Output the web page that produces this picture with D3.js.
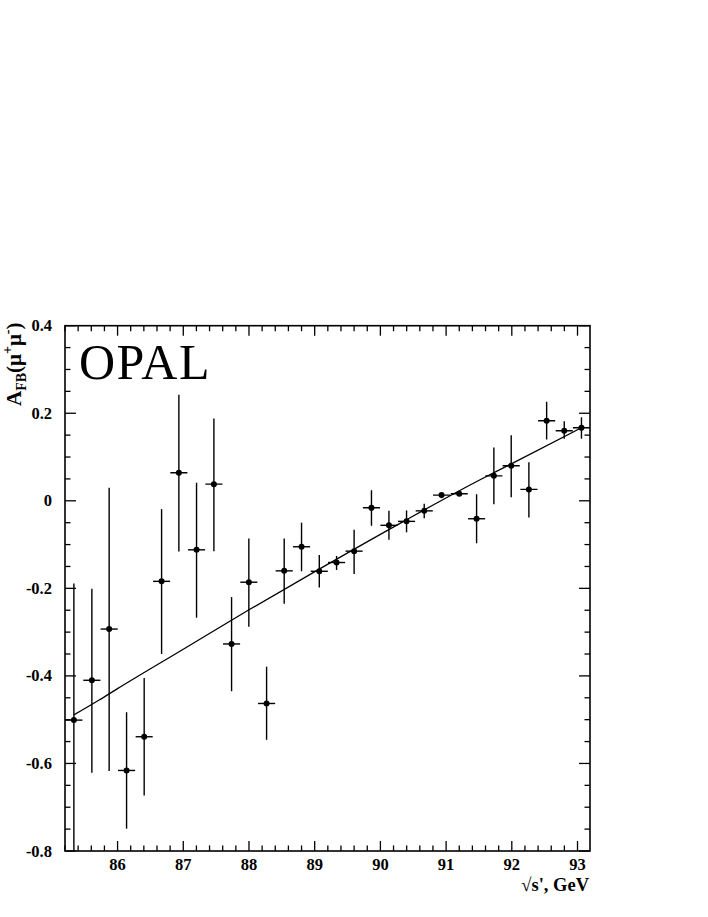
<!DOCTYPE html>
<html>
<head>
<meta charset="utf-8">
<script src="https://cdn.jsdelivr.net/npm/d3@7"></script>
<style>
  html, body { margin: 0; padding: 0; background: #fff; }
  svg { display: block; }
</style>
</head>
<body>
<svg id="chart" width="708" height="917"></svg>
<script>
// ---- data ----
const sqrtS = [85.335, 85.609, 85.872, 86.137, 86.405, 86.670, 86.933, 87.202, 87.466, 87.735,
               87.998, 88.268, 88.536, 88.800, 89.070, 89.333, 89.600, 89.864, 90.130, 90.398,
               90.667, 90.931, 91.200, 91.464, 91.727, 91.991, 92.260, 92.530, 92.798, 93.060];
const afb = [-0.501, -0.410, -0.293, -0.616, -0.539, -0.184, 0.064, -0.112, 0.038, -0.327,
             -0.186, -0.463, -0.160, -0.105, -0.161, -0.141, -0.115, -0.016, -0.056, -0.047,
             -0.023, 0.013, 0.016, -0.041, 0.057, 0.080, 0.026, 0.183, 0.160, 0.167];
const errUp = [0.312, 0.209, 0.323, 0.133, 0.134, 0.165, 0.178, 0.153, 0.150, 0.107,
               0.100, 0.084, 0.074, 0.055, 0.037, 0.015, 0.049, 0.040, 0.033, 0.025,
               0.016, 0.005, 0.004, 0.056, 0.065, 0.070, 0.062, 0.043, 0.022, 0.024];
const errDown = [0.400, 0.211, 0.324, 0.133, 0.134, 0.166, 0.180, 0.155, 0.153, 0.108,
                 0.102, 0.083, 0.075, 0.056, 0.037, 0.017, 0.052, 0.041, 0.033, 0.025,
                 0.017, 0.007, 0.004, 0.056, 0.065, 0.072, 0.064, 0.043, 0.018, 0.025];
const binHalf = 0.13;
// theory curve
const curveX = [85.335, 85.72, 86.0, 87.0, 88.0, 89.069, 90.388, 91.51, 92.0, 93.06];
const curveY = [-0.489, -0.455, -0.429, -0.339, -0.249, -0.156, -0.044, 0.0475, 0.085, 0.167];
const xMajor = [86, 87, 88, 89, 90, 91, 92, 93];
const yMajor = [-0.8, -0.6, -0.4, -0.2, 0, 0.2, 0.4];
const yTickLabels = ["-0.8", "-0.6", "-0.4", "-0.2", "0", "0.2", "0.4"];

// ---- layout ----
const FONT = "'Liberation Serif', Tinos, 'Times New Roman', Times, serif";
const L = 65, R = 590, T = 325.7, B = 851;
const svg = d3.select("#chart").attr("font-family", FONT);
const x = d3.scaleLinear().domain([85.2, 93.19]).range([L, R]);
const y = d3.scaleLinear().domain([-0.8, 0.4]).range([B, T]);

svg.append("defs").append("clipPath").attr("id", "clip")
  .append("rect").attr("x", L).attr("y", T).attr("width", R - L).attr("height", B - T);

// minor tick values
const xMinor = d3.range(0, 41).map(i => +(85.2 + i * 0.2).toFixed(2))
  .filter(v => v <= 93.19 && !xMajor.some(m => Math.abs(m - v) < 1e-6));
const yMinor = d3.range(0, 25).map(i => +(-0.8 + i * 0.05).toFixed(3))
  .filter(v => !yMajor.some(m => Math.abs(m - v) < 1e-6));

const majLen = 10, minLen = 5.5;
const ticks = svg.append("g").attr("stroke", "#000").attr("stroke-width", 1.3);
// bottom & top
xMajor.concat(xMinor).forEach(v => {
  const len = xMajor.includes(v) ? majLen : minLen;
  ticks.append("line").attr("x1", x(v)).attr("x2", x(v)).attr("y1", B).attr("y2", B - len);
  ticks.append("line").attr("x1", x(v)).attr("x2", x(v)).attr("y1", T).attr("y2", T + len);
});
// left & right
yMajor.concat(yMinor).forEach(v => {
  const len = yMajor.some(m => Math.abs(m - v) < 1e-6) ? majLen + 1 : minLen;
  ticks.append("line").attr("x1", L).attr("x2", L + len).attr("y1", y(v)).attr("y2", y(v));
  ticks.append("line").attr("x1", R).attr("x2", R - len).attr("y1", y(v)).attr("y2", y(v));
});

// frame
svg.append("rect").attr("x", L).attr("y", T).attr("width", R - L).attr("height", B - T)
  .attr("fill", "none").attr("stroke", "#000").attr("stroke-width", 1.6);

// tick labels
svg.append("g").selectAll("text").data(xMajor).join("text")
  .attr("font-family", FONT)
  .attr("x", d => x(d)).attr("y", 870).attr("text-anchor", "middle")
  .attr("font-size", 16.5).attr("font-weight", "bold").text(d => d);
svg.append("g").selectAll("text").data(yMajor).join("text")
  .attr("font-family", FONT)
  .attr("x", 52).attr("y", d => y(d) + 5.5).attr("text-anchor", "end")
  .attr("font-size", 16.5).attr("font-weight", "bold").text((d, i) => yTickLabels[i]);

// axis titles
svg.append("text").attr("font-family", FONT).attr("x", 589).attr("y", 891).attr("text-anchor", "end")
  .attr("font-size", 18.5).attr("font-weight", "bold").text("\u221As', GeV");

const yt = svg.append("text").attr("font-family", FONT).attr("transform", "translate(21,406) rotate(-90)")
  .attr("font-size", 21).attr("font-weight", "bold");
yt.append("tspan").text("A");
yt.append("tspan").attr("font-size", 14).attr("dy", 5).text("FB");
yt.append("tspan").attr("dy", -5).text("(\u03BC");
yt.append("tspan").attr("font-size", 14).attr("dy", -9).text("+");
yt.append("tspan").attr("dy", 9).text("\u03BC");
yt.append("tspan").attr("font-size", 14).attr("dy", -9).text("-");
yt.append("tspan").attr("dy", 9).text(")");

// OPAL label
svg.append("text").attr("font-family", FONT).attr("x", 79).attr("y", 379)
  .attr("font-size", 50).attr("letter-spacing", 1.5).text("OPAL");

// plot content
const plot = svg.append("g").attr("clip-path", "url(#clip)");

const pts = sqrtS.map((s, i) => ({ s, a: afb[i], up: errUp[i], dn: errDown[i] }));

// curve
const lineGen = d3.line().x(d => x(d[0])).y(d => y(d[1])).curve(d3.curveMonotoneX);
plot.append("path").datum(curveX.map((v, i) => [v, curveY[i]]))
  .attr("d", lineGen).attr("fill", "none").attr("stroke", "#000").attr("stroke-width", 1.3);

// error bars
const eb = plot.append("g").attr("stroke", "#000").attr("stroke-width", 1.4);
eb.selectAll("line.v").data(pts).join("line").attr("class", "v")
  .attr("x1", d => x(d.s)).attr("x2", d => x(d.s))
  .attr("y1", d => y(d.a + d.up)).attr("y2", d => y(d.a - d.dn));
eb.selectAll("line.h").data(pts).join("line").attr("class", "h")
  .attr("x1", d => x(d.s - binHalf)).attr("x2", d => x(d.s + binHalf))
  .attr("y1", d => y(d.a)).attr("y2", d => y(d.a));

// markers
plot.append("g").selectAll("circle").data(pts).join("circle")
  .attr("cx", d => x(d.s)).attr("cy", d => y(d.a)).attr("r", 3).attr("fill", "#000");
</script>
</body>
</html>
